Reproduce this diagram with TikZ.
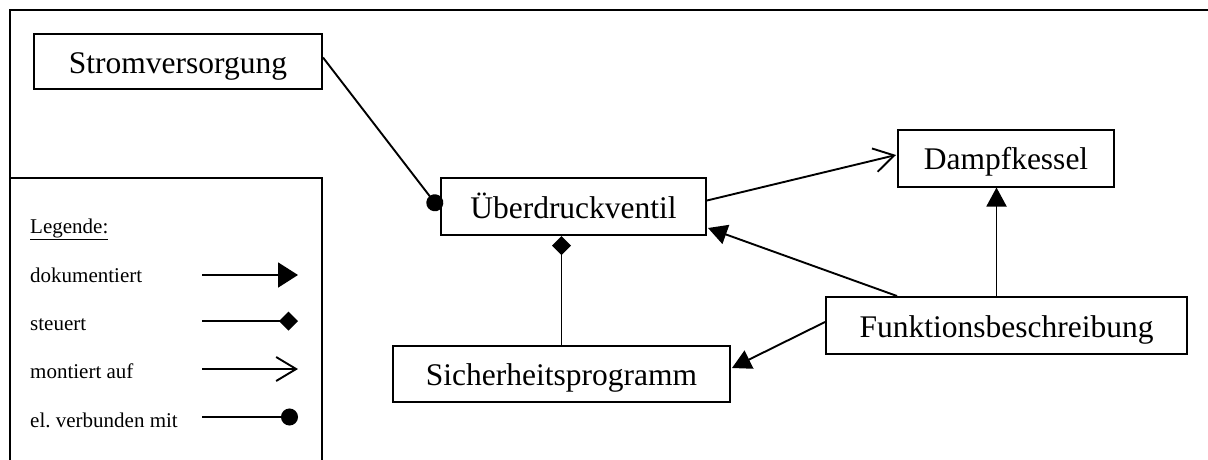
\documentclass[tikz,border=0pt]{standalone}
\usepackage{fontspec}
\setmainfont{Liberation Serif}
\usetikzlibrary{arrows.meta,calc}

\tikzset{
  block/.style={draw, line width=2pt, rectangle, inner sep=0pt,
    text height=23pt, text depth=0pt,
    font=\fontsize{31.5}{36}\selectfont},
  link/.style={line width=1.9pt},
  doc/.style={link, -{Triangle[length=19pt,width=20pt]}},
  ctrl/.style={link, -{Diamond[length=19pt,width=19pt]}},
  mount/.style={link, -{Straight Barb[length=20pt,width=24pt,line width=1.9pt]}},
  wire/.style={link, -{Circle[length=17pt]}},
  legtext/.style={anchor=base west, inner sep=0pt, font=\fontsize{21}{24}\selectfont},
}

\begin{document}
\begin{tikzpicture}[x=1pt,y=-1pt]
\useasboundingbox (0,0) rectangle (1208,459);

% outer frame and legend frame
\draw[line width=2.6pt] (10,462) -- (10,10) -- (1212,10);
\draw[line width=2.2pt] (10,178) -- (322,178) -- (322,462);

% blocks
\node[block, minimum width=288pt, minimum height=55pt] (strom)  at (178,61.5)   {Stromversorgung};
\node[block, minimum width=265pt, minimum height=57pt] (ventil) at (573.5,206.5) {Überdruckventil};
\node[block, minimum width=216pt, minimum height=57pt] (kessel) at (1006,158)   {Dampfkessel};
\node[block, minimum width=361pt, minimum height=57pt] (funkt)  at (1006.5,325.5) {Funktionsbeschreibung};
\node[block, minimum width=337pt, minimum height=56pt] (sicher) at (561.5,374)  {Sicherheitsprogramm};

% relations
\draw[wire]  ($(strom.east)+(0,-4)$) -- ($(ventil.west)+(0,3)$);
\draw[mount] ($(ventil.east)+(0,-6)$) -- ($(kessel.west)+(-1,-3)$);
\draw[doc]   ($(funkt.north west)+(72,0)$) -- ($(ventil.south east)+(1,-8)$);
\draw[doc]   ($(funkt.north)+(-10,0)$) -- ($(kessel.south)+(-9.5,0)$);
\draw[doc]   ($(funkt.west)+(0,-3.5)$) -- ($(sicher.east)+(1,-6)$);
\draw[ctrl]  (sicher.north) -- (sicher.north |- ventil.south);

% legend
\node[legtext] (leg) at (30,233) {\underline{Legende:}};
\node[legtext] (l1) at (30,282) {dokumentiert};
\node[legtext] (l2) at (30,330) {steuert};
\node[legtext] (l3) at (30,378) {montiert auf};
\node[legtext] (l4) at (30,427) {el.\ verbunden mit};

\coordinate (a1) at (202,275);  \coordinate (b1) at (298,275);
\coordinate (a2) at (202,321);  \coordinate (b2) at (298,321);
\coordinate (a3) at (202,369);  \coordinate (b3) at (298,369);
\coordinate (a4) at (202,417);  \coordinate (b4) at (298,417);

\draw[link, -{Triangle[length=20pt,width=25pt]}] (a1) -- (b1);
\draw[ctrl]  (a2) -- (b2);
\draw[mount] (a3) -- (b3);
\draw[wire]  (a4) -- (b4);
\end{tikzpicture}
\end{document}
